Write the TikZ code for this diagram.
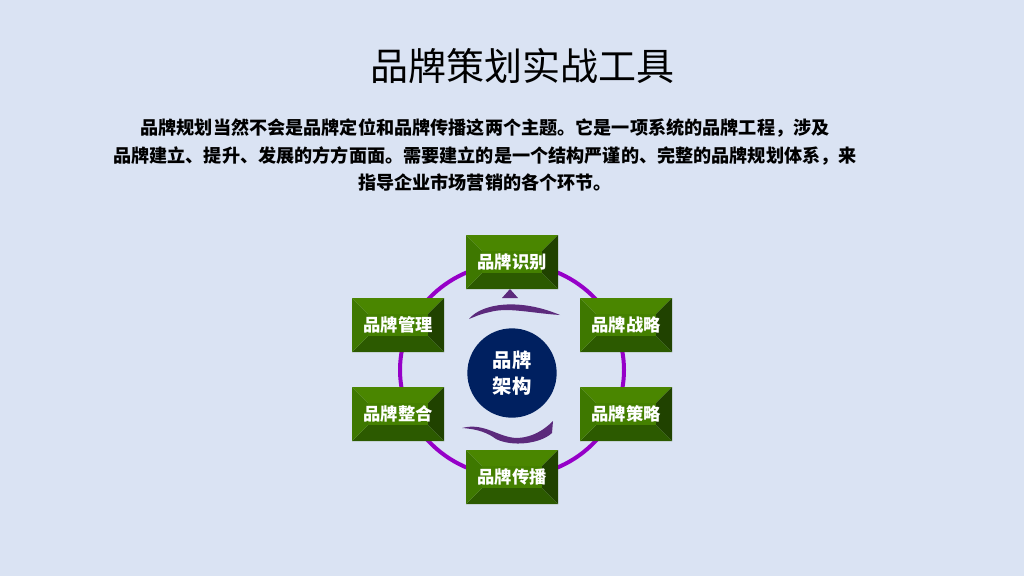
\documentclass[tikz,border=0pt]{standalone}
\usepackage{fontspec}
\setmainfont{Noto Sans CJK SC}
\usetikzlibrary{positioning}

\definecolor{pagebg}{RGB}{218,227,243}
\definecolor{ringpurple}{RGB}{150,0,200}
\definecolor{corenavy}{RGB}{0,32,96}
\definecolor{facetop}{RGB}{74,134,0}
\definecolor{faceleft}{RGB}{62,120,0}
\definecolor{facemid}{RGB}{68,128,0}
\definecolor{facebot}{RGB}{44,90,0}
\definecolor{faceright}{RGB}{32,66,0}
\definecolor{swoosh}{RGB}{92,42,124}

\begin{document}
\begin{tikzpicture}[x=0.75pt, y=-0.75pt,
  brandbox/.style={minimum width=69pt, minimum height=40.5pt, inner sep=0pt,
                   text=white, font=\bfseries\fontsize{13}{15}\selectfont,
                   path picture={
                     \coordinate (nw) at (path picture bounding box.north west);
                     \coordinate (ne) at (path picture bounding box.north east);
                     \coordinate (se) at (path picture bounding box.south east);
                     \coordinate (sw) at (path picture bounding box.south west);
                     \coordinate (inw) at ([shift={(12pt,-12pt)}]nw);
                     \coordinate (ine) at ([shift={(-12pt,-12pt)}]ne);
                     \coordinate (ise) at ([shift={(-12pt,12pt)}]se);
                     \coordinate (isw) at ([shift={(12pt,12pt)}]sw);
                     \fill[facetop] (nw) -- (ne) -- (ine) -- (inw) -- cycle;
                     \fill[faceright] (ne) -- (se) -- (ise) -- (ine) -- cycle;
                     \fill[facebot] (se) -- (sw) -- (isw) -- (ise) -- cycle;
                     \fill[faceleft] (sw) -- (nw) -- (inw) -- (isw) -- cycle;
                     \fill[facemid] (inw) rectangle (ise);
                   }},
  core/.style={circle, fill=corenavy, minimum size=67pt, inner sep=0pt,
               text=white, align=center, font=\bfseries\fontsize{14.5}{19}\selectfont},
]
  % page
  \fill[pagebg] (0,0) rectangle (1024,576);
  \useasboundingbox (0,0) rectangle (1024,576);

  % heading and intro text
  \node[font=\fontsize{28.5}{34}\selectfont] (title) at (522,66) {品牌策划实战工具};
  \node[font=\bfseries\fontsize{13.6}{20.6}\selectfont, align=center] (intro) at (485,155)
    {品牌规划当然不会是品牌定位和品牌传播这两个主题。它是一项系统的品牌工程，涉及\\
     品牌建立、提升、发展的方方面面。需要建立的是一个结构严谨的、完整的品牌规划体系，来\\
     指导企业市场营销的各个环节。};

  % ring behind the boxes
  \draw[ringpurple, line width=3pt] (512,370) ellipse [x radius=84pt, y radius=80pt];

  % circulating arrows round the core
  \fill[swoosh] (502,298) -- (510,289) -- (518,298) -- cycle;
  \fill[swoosh] (469,319) .. controls (482,303) and (520,298) .. (560,315)
                .. controls (530,313) and (508,307) .. (490,312)
                .. controls (480,314) and (474,317) .. (469,319) -- cycle;
  \fill[swoosh] (462,428) .. controls (485,422) and (498,438) .. (518,438)
                .. controls (533,437) and (544,430) .. (553,421)
                -- (552,433) .. controls (540,444) and (512,447) .. (496,439)
                .. controls (488,433) and (478,429) .. (462,428) -- cycle;

  % brand boxes
  \node[brandbox] (ident)  at (512,262) {品牌识别};
  \node[brandbox] (strat)  at (626,325) {品牌战略};
  \node[brandbox] (policy) at (626,414) {品牌策略};
  \node[brandbox] (spread) at (512,477) {品牌传播};
  \node[brandbox] (merge)  at (398,414) {品牌整合};
  \node[brandbox] (manage) at (398,325) {品牌管理};

  % core
  \node[core] (arch) at (512,373) {品牌\\架构};
\end{tikzpicture}
\end{document}
